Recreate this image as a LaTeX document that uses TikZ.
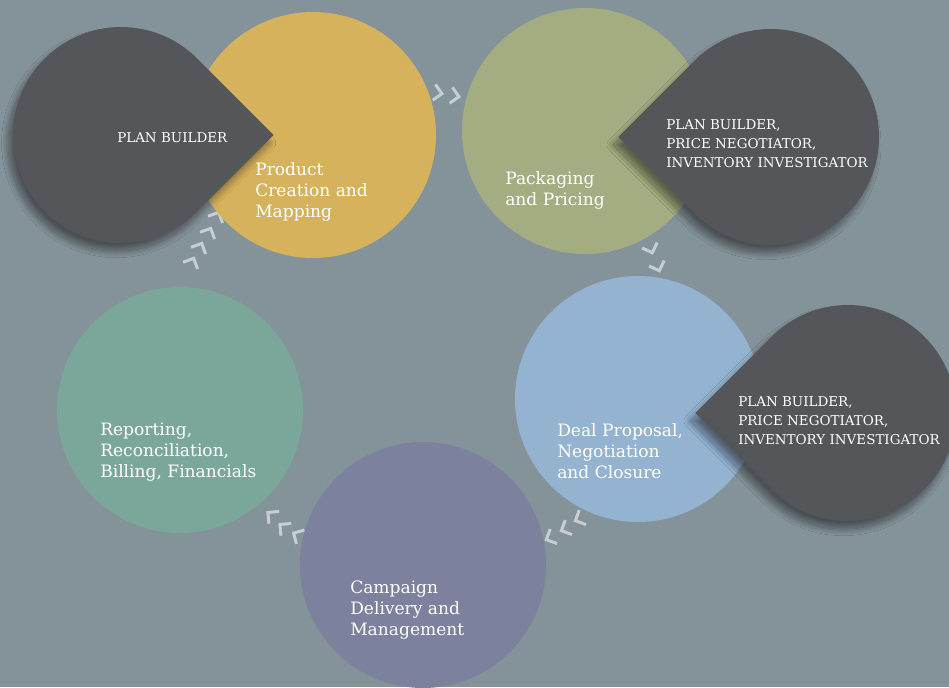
\documentclass[tikz,border=0pt]{standalone}
\usepackage{fontspec}
\setmainfont{DejaVu Serif}
\usetikzlibrary{calc,shadows.blur}
\definecolor{fond}{RGB}{132,146,153}
\definecolor{jaune}{RGB}{214,178,92}
\definecolor{vert}{RGB}{164,172,129}
\definecolor{bleu}{RGB}{147,179,209}
\definecolor{violet}{RGB}{124,129,157}
\definecolor{sarcelle}{RGB}{123,167,154}
\definecolor{sombre}{RGB}{85,86,89}
\definecolor{fleche}{RGB}{198,206,210}
\begin{document}
\begin{tikzpicture}[x=0.75pt,y=0.75pt]
            \tikzstyle{etape}=[circle,inner sep=0pt,minimum size=184.5pt]
            \tikzstyle{texte}=[anchor=west,align=left,inner sep=0pt,text=white,font=\fontsize{12.8}{15.75}\selectfont]
            \tikzstyle{bulle}=[fill=sombre,blur shadow={shadow xshift=-3.5pt,shadow yshift=-6pt,shadow blur radius=5pt,shadow blur steps=20,shadow opacity=45}]
            \tikzstyle{role}=[anchor=west,align=left,inner sep=0pt,text=white,font=\fontsize{10.1}{14.25}\selectfont]
            \tikzstyle{chevron}=[line width=2.25pt,draw=fleche]
            \fill[fond] (0,0) rectangle (949,687);
            \useasboundingbox (0,0) rectangle (949,687);
            % chevrons entre les etapes
            \foreach \x/\y/\a in {438/594/-10, 455/591/-10,
                                  651/438/-70, 658/420/-70,
                                  579/168/205, 565/158/205, 550/149/205,
                                  271/172/140, 283/160/140, 297/152/150,
                                  217/471/65, 209/455/65, 200/440/65, 192/425/65}
              \draw[chevron,shift={(\x,\y)},rotate=\a] (-4,8) -- (4,0) -- (-4,-8);
            % etapes
            \node[etape,fill=jaune] (produit) at (313,552) {};
            \node[etape,fill=vert] (prix) at (585,556) {};
            \node[etape,fill=bleu] (offre) at (638,288) {};
            \node[etape,fill=violet] (campagne) at (423,122) {};
            \node[etape,fill=sarcelle] (rapport) at (180,277) {};
            % bulles
            \coordinate (b1) at (121,552);
            \coordinate (b2) at (771,550);
            \coordinate (b3) at (848,274);
            \path[bulle] ($(b1)+(152.7,0)$) -- ($(b1)+(45:108)$) arc[start angle=45,end angle=315,radius=108] -- cycle;
            \path[bulle] ($(b2)+(-152.7,0)$) -- ($(b2)+(-135:108)$) arc[start angle=-135,end angle=135,radius=108] -- cycle;
            \path[bulle] ($(b3)+(-152.7,0)$) -- ($(b3)+(-135:108)$) arc[start angle=-135,end angle=135,radius=108] -- cycle;
            % textes
            \node[texte] (t1) at (255,495) {Product\\Creation and\\Mapping};
            \node[texte] (t2) at (505,496.5) {Packaging\\and Pricing};
            \node[texte] (t3) at (557,236) {Deal Proposal,\\Negotiation\\and Closure};
            \node[texte] (t4) at (350,77) {Campaign\\Delivery and\\Management};
            \node[texte] (t5) at (100,235) {Reporting,\\Reconciliation,\\Billing, Financials};
            \node[role] (r1) at (117,549) {PLAN BUILDER};
            \node[role] (r2) at (666,543) {PLAN BUILDER,\\PRICE NEGOTIATOR,\\INVENTORY INVESTIGATOR};
            \node[role] (r3) at (738,266) {PLAN BUILDER,\\PRICE NEGOTIATOR,\\INVENTORY INVESTIGATOR};
        \end{tikzpicture}
\end{document}
